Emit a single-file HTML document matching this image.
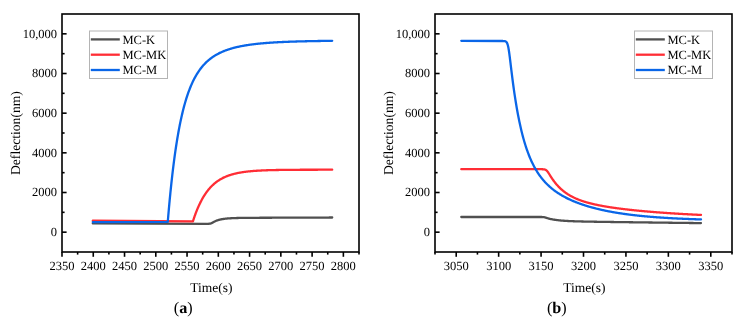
<!DOCTYPE html>
<html><head><meta charset="utf-8"><style>
html,body{margin:0;padding:0;background:#fff;}
body{width:742px;height:322px;overflow:hidden;}
svg{display:block;}
text{font-family:"Liberation Serif",serif;fill:#000;text-rendering:geometricPrecision;}
svg{will-change:transform;}
</style></head><body>
<svg width="742" height="322" viewBox="0 0 742 322">

<path d="M92.80,223.40 L206.30,223.80 L206.40,223.80 L206.50,223.80 L206.60,223.80 L206.70,223.80 L206.80,223.80 L206.90,223.80 L207.00,223.80 L207.10,223.80 L207.20,223.80 L207.30,223.79 L207.40,223.79 L207.50,223.79 L207.60,223.79 L207.70,223.79 L207.80,223.79 L207.90,223.79 L208.00,223.79 L208.10,223.78 L208.20,223.78 L208.30,223.78 L208.40,223.78 L208.50,223.78 L208.60,223.77 L208.70,223.77 L208.80,223.76 L208.90,223.76 L209.00,223.75 L209.10,223.75 L209.20,223.74 L209.30,223.73 L209.40,223.73 L209.50,223.72 L209.60,223.71 L209.70,223.70 L209.80,223.68 L209.90,223.67 L210.00,223.65 L210.10,223.64 L210.20,223.62 L210.30,223.60 L210.40,223.58 L210.50,223.55 L210.60,223.53 L210.70,223.50 L210.80,223.47 L210.90,223.44 L211.00,223.40 L211.10,223.36 L211.20,223.32 L211.30,223.28 L211.40,223.24 L211.50,223.20 L211.60,223.15 L211.70,223.10 L211.80,223.05 L211.90,223.00 L212.00,222.95 L212.10,222.90 L212.20,222.84 L212.30,222.79 L212.40,222.73 L212.50,222.67 L212.60,222.62 L212.70,222.56 L212.80,222.50 L212.90,222.45 L213.00,222.39 L213.10,222.33 L213.20,222.28 L213.30,222.22 L213.40,222.16 L213.50,222.11 L213.60,222.05 L213.70,222.00 L213.80,221.94 L213.90,221.89 L214.00,221.84 L214.10,221.78 L214.20,221.73 L214.70,221.48 L215.20,221.24 L215.70,221.02 L216.20,220.81 L216.70,220.61 L217.20,220.43 L217.70,220.26 L218.20,220.10 L218.70,219.95 L219.20,219.81 L219.70,219.69 L220.20,219.56 L220.70,219.45 L221.20,219.35 L221.70,219.25 L222.20,219.16 L222.70,219.07 L223.20,218.99 L223.70,218.91 L224.20,218.84 L224.70,218.78 L225.20,218.72 L225.70,218.66 L226.20,218.61 L226.70,218.56 L227.20,218.51 L227.70,218.47 L228.20,218.42 L228.70,218.39 L229.20,218.35 L229.70,218.32 L230.20,218.28 L230.70,218.26 L231.20,218.23 L231.70,218.20 L232.20,218.18 L232.70,218.15 L233.20,218.13 L233.70,218.11 L234.20,218.09 L234.70,218.08 L235.20,218.06 L235.70,218.04 L236.20,218.03 L236.70,218.02 L237.20,218.00 L237.70,217.99 L238.20,217.98 L238.70,217.97 L239.20,217.96 L239.70,217.95 L240.20,217.94 L240.70,217.93 L241.20,217.92 L241.70,217.91 L242.20,217.91 L242.70,217.90 L243.20,217.89 L243.70,217.89 L244.20,217.88 L244.70,217.88 L245.20,217.87 L245.70,217.86 L246.20,217.86 L246.70,217.85 L247.20,217.85 L247.70,217.85 L248.20,217.84 L248.70,217.84 L249.20,217.83 L249.70,217.83 L250.20,217.83 L250.70,217.82 L251.20,217.82 L251.70,217.82 L252.20,217.81 L252.70,217.81 L253.20,217.81 L253.70,217.80 L254.20,217.80 L254.70,217.80 L255.20,217.80 L255.70,217.79 L256.20,217.79 L256.70,217.79 L257.20,217.79 L257.70,217.78 L258.20,217.78 L258.70,217.78 L259.20,217.78 L259.70,217.77 L260.20,217.77 L260.70,217.77 L261.20,217.77 L261.70,217.76 L262.20,217.76 L262.70,217.76 L263.20,217.76 L263.70,217.76 L264.20,217.75 L264.70,217.75 L265.20,217.75 L265.70,217.75 L266.20,217.75 L266.70,217.74 L267.20,217.74 L267.70,217.74 L268.20,217.74 L268.70,217.74 L269.20,217.74 L269.70,217.73 L270.20,217.73 L270.70,217.73 L271.20,217.73 L271.70,217.73 L272.20,217.72 L272.70,217.72 L273.20,217.72 L273.70,217.72 L274.20,217.72 L274.70,217.71 L275.20,217.71 L275.70,217.71 L276.20,217.71 L276.70,217.71 L277.20,217.71 L277.70,217.70 L278.20,217.70 L278.70,217.70 L279.20,217.70 L279.70,217.70 L280.20,217.69 L280.70,217.69 L281.20,217.69 L281.70,217.69 L282.20,217.69 L282.70,217.69 L283.20,217.68 L283.70,217.68 L284.20,217.68 L284.70,217.68 L285.20,217.68 L285.70,217.68 L286.20,217.67 L286.70,217.67 L287.20,217.67 L287.70,217.67 L288.20,217.67 L288.70,217.66 L289.20,217.66 L289.70,217.66 L290.20,217.66 L290.70,217.66 L291.20,217.66 L291.70,217.65 L292.20,217.65 L292.70,217.65 L293.20,217.65 L293.70,217.65 L294.20,217.65 L294.70,217.64 L295.20,217.64 L295.70,217.64 L296.20,217.64 L296.70,217.64 L297.20,217.64 L297.70,217.63 L298.20,217.63 L298.70,217.63 L299.20,217.63 L299.70,217.63 L300.20,217.62 L300.70,217.62 L301.20,217.62 L301.70,217.62 L302.20,217.62 L302.70,217.62 L303.20,217.61 L303.70,217.61 L304.20,217.61 L304.70,217.61 L305.20,217.61 L305.70,217.61 L306.20,217.60 L306.70,217.60 L307.20,217.60 L307.70,217.60 L308.20,217.60 L308.70,217.60 L309.20,217.59 L309.70,217.59 L310.20,217.59 L310.70,217.59 L311.20,217.59 L311.70,217.58 L312.20,217.58 L312.70,217.58 L313.20,217.58 L313.70,217.58 L314.20,217.58 L314.70,217.57 L315.20,217.57 L315.70,217.57 L316.20,217.57 L316.70,217.57 L317.20,217.57 L317.70,217.56 L318.20,217.56 L318.70,217.56 L319.20,217.56 L319.70,217.56 L320.20,217.56 L320.70,217.55 L321.20,217.55 L321.70,217.55 L322.20,217.55 L322.70,217.55 L323.20,217.55 L323.70,217.54 L324.20,217.54 L324.70,217.54 L325.20,217.54 L325.70,217.54 L326.20,217.53 L326.70,217.53 L327.20,217.53 L327.70,217.53 L328.20,217.53 L328.70,217.53 L329.20,217.52 L329.70,217.52 L330.20,217.52 L330.70,217.52 L331.20,217.52 L331.70,217.52 L332.20,217.51" fill="none" stroke="#505050" stroke-width="2.3" stroke-linejoin="round" stroke-linecap="round"/>
<path d="M92.80,220.70 L192.95,221.30 L193.05,220.99 L193.15,220.67 L193.25,220.36 L193.35,220.05 L193.45,219.75 L193.55,219.44 L193.65,219.14 L193.75,218.84 L193.85,218.54 L193.95,218.24 L194.05,217.95 L194.15,217.65 L194.25,217.36 L194.35,217.07 L194.45,216.78 L194.55,216.49 L194.65,216.21 L194.75,215.93 L194.85,215.64 L194.95,215.36 L195.05,215.09 L195.15,214.81 L195.25,214.53 L195.35,214.26 L195.45,213.99 L195.55,213.72 L195.65,213.45 L195.75,213.18 L195.85,212.92 L195.95,212.66 L196.05,212.39 L196.55,211.11 L197.05,209.86 L197.55,208.66 L198.05,207.48 L198.55,206.35 L199.05,205.24 L199.55,204.17 L200.05,203.14 L200.55,202.13 L201.05,201.15 L201.55,200.21 L202.05,199.29 L202.55,198.40 L203.05,197.54 L203.55,196.70 L204.05,195.88 L204.55,195.10 L205.05,194.33 L205.55,193.59 L206.05,192.87 L206.55,192.18 L207.05,191.50 L207.55,190.84 L208.05,190.21 L208.55,189.59 L209.05,188.99 L209.55,188.41 L210.05,187.85 L210.55,187.30 L211.05,186.77 L211.55,186.26 L212.05,185.76 L212.55,185.28 L213.05,184.81 L213.55,184.35 L214.05,183.91 L214.55,183.48 L215.05,183.07 L215.55,182.67 L216.05,182.28 L216.55,181.90 L217.05,181.53 L217.55,181.18 L218.05,180.83 L218.55,180.49 L219.05,180.17 L219.55,179.85 L220.05,179.55 L220.55,179.25 L221.05,178.97 L221.55,178.69 L222.05,178.42 L222.55,178.15 L223.05,177.90 L223.55,177.65 L224.05,177.41 L224.55,177.18 L225.05,176.96 L225.55,176.74 L226.05,176.53 L226.55,176.32 L227.05,176.12 L227.55,175.93 L228.05,175.74 L228.55,175.56 L229.05,175.38 L229.55,175.21 L230.05,175.05 L230.55,174.88 L231.05,174.73 L231.55,174.58 L232.05,174.43 L232.55,174.29 L233.05,174.15 L233.55,174.02 L234.05,173.89 L234.55,173.76 L235.05,173.64 L235.55,173.52 L236.05,173.40 L236.55,173.29 L237.05,173.19 L237.55,173.08 L238.05,172.98 L238.55,172.88 L239.05,172.78 L239.55,172.69 L240.05,172.60 L240.55,172.51 L241.05,172.43 L241.55,172.35 L242.05,172.27 L242.55,172.19 L243.05,172.12 L243.55,172.04 L244.05,171.97 L244.55,171.90 L245.05,171.84 L245.55,171.77 L246.05,171.71 L246.55,171.65 L247.05,171.59 L247.55,171.53 L248.05,171.48 L248.55,171.43 L249.05,171.37 L249.55,171.32 L250.05,171.27 L250.55,171.23 L251.05,171.18 L251.55,171.14 L252.05,171.09 L252.55,171.05 L253.05,171.01 L253.55,170.97 L254.05,170.93 L254.55,170.90 L255.05,170.86 L255.55,170.83 L256.05,170.79 L256.55,170.76 L257.05,170.73 L257.55,170.70 L258.05,170.67 L258.55,170.64 L259.05,170.61 L259.55,170.58 L260.05,170.55 L260.55,170.53 L261.05,170.50 L261.55,170.48 L262.05,170.46 L262.55,170.43 L263.05,170.41 L263.55,170.39 L264.05,170.37 L264.55,170.35 L265.05,170.33 L265.55,170.31 L266.05,170.29 L266.55,170.27 L267.05,170.26 L267.55,170.24 L268.05,170.22 L268.55,170.21 L269.05,170.19 L269.55,170.18 L270.05,170.16 L270.55,170.15 L271.05,170.14 L271.55,170.12 L272.05,170.11 L272.55,170.10 L273.05,170.09 L273.55,170.07 L274.05,170.06 L274.55,170.05 L275.05,170.04 L275.55,170.03 L276.05,170.02 L276.55,170.01 L277.05,170.00 L277.55,169.99 L278.05,169.98 L278.55,169.98 L279.05,169.97 L279.55,169.96 L280.05,169.95 L280.55,169.94 L281.05,169.94 L281.55,169.93 L282.05,169.92 L282.55,169.92 L283.05,169.91 L283.55,169.90 L284.05,169.90 L284.55,169.89 L285.05,169.89 L285.55,169.88 L286.05,169.87 L286.55,169.87 L287.05,169.86 L287.55,169.86 L288.05,169.85 L288.55,169.85 L289.05,169.85 L289.55,169.84 L290.05,169.84 L290.55,169.83 L291.05,169.83 L291.55,169.82 L292.05,169.82 L292.55,169.82 L293.05,169.81 L293.55,169.81 L294.05,169.81 L294.55,169.80 L295.05,169.80 L295.55,169.80 L296.05,169.79 L296.55,169.79 L297.05,169.79 L297.55,169.79 L298.05,169.78 L298.55,169.78 L299.05,169.78 L299.55,169.78 L300.05,169.77 L300.55,169.77 L301.05,169.77 L301.55,169.77 L302.05,169.77 L302.55,169.76 L303.05,169.76 L303.55,169.76 L304.05,169.76 L304.55,169.76 L305.05,169.75 L305.55,169.75 L306.05,169.75 L306.55,169.75 L307.05,169.75 L307.55,169.75 L308.05,169.75 L308.55,169.74 L309.05,169.74 L309.55,169.74 L310.05,169.74 L310.55,169.74 L311.05,169.74 L311.55,169.74 L312.05,169.74 L312.55,169.73 L313.05,169.73 L313.55,169.73 L314.05,169.73 L314.55,169.73 L315.05,169.73 L315.55,169.73 L316.05,169.73 L316.55,169.73 L317.05,169.73 L317.55,169.73 L318.05,169.72 L318.55,169.72 L319.05,169.72 L319.55,169.72 L320.05,169.72 L320.55,169.72 L321.05,169.72 L321.55,169.72 L322.05,169.72 L322.55,169.72 L323.05,169.72 L323.55,169.72 L324.05,169.72 L324.55,169.72 L325.05,169.72 L325.55,169.72 L326.05,169.72 L326.55,169.71 L327.05,169.71 L327.55,169.71 L328.05,169.71 L328.55,169.71 L329.05,169.71 L329.55,169.71 L330.05,169.71 L330.55,169.71 L331.05,169.71 L331.55,169.71 L332.05,169.71 L332.20,169.71" fill="none" stroke="#ff2d35" stroke-width="2.3" stroke-linejoin="round" stroke-linecap="round"/>
<path d="M92.80,222.10 L167.77,221.90 L167.87,220.68 L167.97,219.47 L168.07,218.27 L168.17,217.07 L168.27,215.89 L168.37,214.71 L168.47,213.55 L168.57,212.39 L168.67,211.24 L168.77,210.10 L168.87,208.97 L168.97,207.85 L169.07,206.74 L169.17,205.63 L169.27,204.54 L169.37,203.45 L169.47,202.37 L169.57,201.30 L169.67,200.23 L169.77,199.18 L169.87,198.13 L169.97,197.09 L170.07,196.06 L170.17,195.04 L170.27,194.02 L170.37,193.01 L170.47,192.01 L170.57,191.02 L170.67,190.03 L170.77,189.05 L170.87,188.08 L171.37,183.34 L171.87,178.77 L172.37,174.36 L172.87,170.12 L173.37,166.04 L173.87,162.10 L174.37,158.31 L174.87,154.66 L175.37,151.14 L175.87,147.74 L176.37,144.47 L176.87,141.31 L177.37,138.27 L177.87,135.33 L178.37,132.50 L178.87,129.77 L179.37,127.13 L179.87,124.59 L180.37,122.13 L180.87,119.76 L181.37,117.47 L181.87,115.26 L182.37,113.13 L182.87,111.07 L183.37,109.08 L183.87,107.16 L184.37,105.30 L184.87,103.50 L185.37,101.76 L185.87,100.08 L186.37,98.46 L186.87,96.89 L187.37,95.37 L187.87,93.90 L188.37,92.48 L188.87,91.11 L189.37,89.78 L189.87,88.49 L190.37,87.24 L190.87,86.03 L191.37,84.86 L191.87,83.73 L192.37,82.63 L192.87,81.57 L193.37,80.54 L193.87,79.54 L194.37,78.57 L194.87,77.63 L195.37,76.72 L195.87,75.84 L196.37,74.98 L196.87,74.15 L197.37,73.34 L197.87,72.56 L198.37,71.80 L198.87,71.06 L199.37,70.34 L199.87,69.64 L200.37,68.97 L200.87,68.31 L201.37,67.67 L201.87,67.05 L202.37,66.45 L202.87,65.86 L203.37,65.29 L203.87,64.74 L204.37,64.20 L204.87,63.67 L205.37,63.16 L205.87,62.67 L206.37,62.18 L206.87,61.71 L207.37,61.25 L207.87,60.81 L208.37,60.37 L208.87,59.95 L209.37,59.54 L209.87,59.14 L210.37,58.74 L210.87,58.36 L211.37,57.99 L211.87,57.63 L212.37,57.28 L212.87,56.93 L213.37,56.59 L213.87,56.27 L214.37,55.95 L214.87,55.64 L215.37,55.33 L215.87,55.03 L216.37,54.74 L216.87,54.46 L217.37,54.18 L217.87,53.91 L218.37,53.65 L218.87,53.39 L219.37,53.14 L219.87,52.90 L220.37,52.66 L220.87,52.42 L221.37,52.19 L221.87,51.97 L222.37,51.75 L222.87,51.54 L223.37,51.33 L223.87,51.12 L224.37,50.92 L224.87,50.73 L225.37,50.54 L225.87,50.35 L226.37,50.17 L226.87,49.99 L227.37,49.81 L227.87,49.64 L228.37,49.47 L228.87,49.31 L229.37,49.15 L229.87,48.99 L230.37,48.84 L230.87,48.69 L231.37,48.54 L231.87,48.39 L232.37,48.25 L232.87,48.11 L233.37,47.98 L233.87,47.84 L234.37,47.71 L234.87,47.59 L235.37,47.46 L235.87,47.34 L236.37,47.22 L236.87,47.10 L237.37,46.99 L237.87,46.87 L238.37,46.76 L238.87,46.65 L239.37,46.55 L239.87,46.44 L240.37,46.34 L240.87,46.24 L241.37,46.14 L241.87,46.05 L242.37,45.95 L242.87,45.86 L243.37,45.77 L243.87,45.68 L244.37,45.59 L244.87,45.50 L245.37,45.42 L245.87,45.34 L246.37,45.26 L246.87,45.18 L247.37,45.10 L247.87,45.02 L248.37,44.95 L248.87,44.87 L249.37,44.80 L249.87,44.73 L250.37,44.66 L250.87,44.59 L251.37,44.52 L251.87,44.46 L252.37,44.39 L252.87,44.33 L253.37,44.27 L253.87,44.21 L254.37,44.15 L254.87,44.09 L255.37,44.03 L255.87,43.97 L256.37,43.92 L256.87,43.86 L257.37,43.81 L257.87,43.75 L258.37,43.70 L258.87,43.65 L259.37,43.60 L259.87,43.55 L260.37,43.50 L260.87,43.46 L261.37,43.41 L261.87,43.36 L262.37,43.32 L262.87,43.27 L263.37,43.23 L263.87,43.19 L264.37,43.15 L264.87,43.10 L265.37,43.06 L265.87,43.02 L266.37,42.98 L266.87,42.95 L267.37,42.91 L267.87,42.87 L268.37,42.83 L268.87,42.80 L269.37,42.76 L269.87,42.73 L270.37,42.69 L270.87,42.66 L271.37,42.63 L271.87,42.59 L272.37,42.56 L272.87,42.53 L273.37,42.50 L273.87,42.47 L274.37,42.44 L274.87,42.41 L275.37,42.38 L275.87,42.35 L276.37,42.32 L276.87,42.30 L277.37,42.27 L277.87,42.24 L278.37,42.22 L278.87,42.19 L279.37,42.17 L279.87,42.14 L280.37,42.12 L280.87,42.09 L281.37,42.07 L281.87,42.04 L282.37,42.02 L282.87,42.00 L283.37,41.98 L283.87,41.95 L284.37,41.93 L284.87,41.91 L285.37,41.89 L285.87,41.87 L286.37,41.85 L286.87,41.83 L287.37,41.81 L287.87,41.79 L288.37,41.77 L288.87,41.75 L289.37,41.73 L289.87,41.72 L290.37,41.70 L290.87,41.68 L291.37,41.66 L291.87,41.65 L292.37,41.63 L292.87,41.61 L293.37,41.60 L293.87,41.58 L294.37,41.56 L294.87,41.55 L295.37,41.53 L295.87,41.52 L296.37,41.50 L296.87,41.49 L297.37,41.47 L297.87,41.46 L298.37,41.45 L298.87,41.43 L299.37,41.42 L299.87,41.40 L300.37,41.39 L300.87,41.38 L301.37,41.37 L301.87,41.35 L302.37,41.34 L302.87,41.33 L303.37,41.32 L303.87,41.30 L304.37,41.29 L304.87,41.28 L305.37,41.27 L305.87,41.26 L306.37,41.24 L306.87,41.23 L307.37,41.22 L307.87,41.21 L308.37,41.20 L308.87,41.19 L309.37,41.18 L309.87,41.17 L310.37,41.16 L310.87,41.15 L311.37,41.14 L311.87,41.13 L312.37,41.12 L312.87,41.11 L313.37,41.10 L313.87,41.09 L314.37,41.08 L314.87,41.07 L315.37,41.06 L315.87,41.06 L316.37,41.05 L316.87,41.04 L317.37,41.03 L317.87,41.02 L318.37,41.01 L318.87,41.01 L319.37,41.00 L319.87,40.99 L320.37,40.98 L320.87,40.97 L321.37,40.97 L321.87,40.96 L322.37,40.95 L322.87,40.94 L323.37,40.94 L323.87,40.93 L324.37,40.92 L324.87,40.91 L325.37,40.91 L325.87,40.90 L326.37,40.89 L326.87,40.89 L327.37,40.88 L327.87,40.87 L328.37,40.86 L328.87,40.86 L329.37,40.85 L329.87,40.85 L330.37,40.84 L330.87,40.83 L331.37,40.83 L331.87,40.82 L332.20,40.82" fill="none" stroke="#0a66e8" stroke-width="2.3" stroke-linejoin="round" stroke-linecap="round"/>
<rect x="62.0" y="14.0" width="297.0" height="238.0" fill="none" stroke="#000" stroke-width="1.6"/>
<line x1="62.0" y1="232.17" x2="66.6" y2="232.17" stroke="#000" stroke-width="1.6"/>
<text x="57.10" y="235.97" font-size="12.5" text-anchor="end">0</text>
<line x1="62.0" y1="212.33" x2="64.6" y2="212.33" stroke="#000" stroke-width="1.6"/>
<line x1="62.0" y1="192.50" x2="66.6" y2="192.50" stroke="#000" stroke-width="1.6"/>
<text x="57.10" y="196.30" font-size="12.5" text-anchor="end">2000</text>
<line x1="62.0" y1="172.67" x2="64.6" y2="172.67" stroke="#000" stroke-width="1.6"/>
<line x1="62.0" y1="152.83" x2="66.6" y2="152.83" stroke="#000" stroke-width="1.6"/>
<text x="57.10" y="156.63" font-size="12.5" text-anchor="end">4000</text>
<line x1="62.0" y1="133.00" x2="64.6" y2="133.00" stroke="#000" stroke-width="1.6"/>
<line x1="62.0" y1="113.17" x2="66.6" y2="113.17" stroke="#000" stroke-width="1.6"/>
<text x="57.10" y="116.97" font-size="12.5" text-anchor="end">6000</text>
<line x1="62.0" y1="93.33" x2="64.6" y2="93.33" stroke="#000" stroke-width="1.6"/>
<line x1="62.0" y1="73.50" x2="66.6" y2="73.50" stroke="#000" stroke-width="1.6"/>
<text x="57.10" y="77.30" font-size="12.5" text-anchor="end">8000</text>
<line x1="62.0" y1="53.67" x2="64.6" y2="53.67" stroke="#000" stroke-width="1.6"/>
<line x1="62.0" y1="33.83" x2="66.6" y2="33.83" stroke="#000" stroke-width="1.6"/>
<text x="57.10" y="37.63" font-size="12.5" text-anchor="end">10,000</text>
<line x1="62.00" y1="252.0" x2="62.00" y2="256.8" stroke="#000" stroke-width="1.6"/>
<text x="62.00" y="269.9" font-size="12.5" text-anchor="middle">2350</text>
<line x1="77.63" y1="252.0" x2="77.63" y2="254.6" stroke="#000" stroke-width="1.6"/>
<line x1="93.26" y1="252.0" x2="93.26" y2="256.8" stroke="#000" stroke-width="1.6"/>
<text x="93.26" y="269.9" font-size="12.5" text-anchor="middle">2400</text>
<line x1="108.89" y1="252.0" x2="108.89" y2="254.6" stroke="#000" stroke-width="1.6"/>
<line x1="124.53" y1="252.0" x2="124.53" y2="256.8" stroke="#000" stroke-width="1.6"/>
<text x="124.53" y="269.9" font-size="12.5" text-anchor="middle">2450</text>
<line x1="140.16" y1="252.0" x2="140.16" y2="254.6" stroke="#000" stroke-width="1.6"/>
<line x1="155.79" y1="252.0" x2="155.79" y2="256.8" stroke="#000" stroke-width="1.6"/>
<text x="155.79" y="269.9" font-size="12.5" text-anchor="middle">2500</text>
<line x1="171.42" y1="252.0" x2="171.42" y2="254.6" stroke="#000" stroke-width="1.6"/>
<line x1="187.05" y1="252.0" x2="187.05" y2="256.8" stroke="#000" stroke-width="1.6"/>
<text x="187.05" y="269.9" font-size="12.5" text-anchor="middle">2550</text>
<line x1="202.68" y1="252.0" x2="202.68" y2="254.6" stroke="#000" stroke-width="1.6"/>
<line x1="218.32" y1="252.0" x2="218.32" y2="256.8" stroke="#000" stroke-width="1.6"/>
<text x="218.32" y="269.9" font-size="12.5" text-anchor="middle">2600</text>
<line x1="233.95" y1="252.0" x2="233.95" y2="254.6" stroke="#000" stroke-width="1.6"/>
<line x1="249.58" y1="252.0" x2="249.58" y2="256.8" stroke="#000" stroke-width="1.6"/>
<text x="249.58" y="269.9" font-size="12.5" text-anchor="middle">2650</text>
<line x1="265.21" y1="252.0" x2="265.21" y2="254.6" stroke="#000" stroke-width="1.6"/>
<line x1="280.84" y1="252.0" x2="280.84" y2="256.8" stroke="#000" stroke-width="1.6"/>
<text x="280.84" y="269.9" font-size="12.5" text-anchor="middle">2700</text>
<line x1="296.47" y1="252.0" x2="296.47" y2="254.6" stroke="#000" stroke-width="1.6"/>
<line x1="312.11" y1="252.0" x2="312.11" y2="256.8" stroke="#000" stroke-width="1.6"/>
<text x="312.11" y="269.9" font-size="12.5" text-anchor="middle">2750</text>
<line x1="327.74" y1="252.0" x2="327.74" y2="254.6" stroke="#000" stroke-width="1.6"/>
<line x1="343.37" y1="252.0" x2="343.37" y2="256.8" stroke="#000" stroke-width="1.6"/>
<text x="343.37" y="269.9" font-size="12.5" text-anchor="middle">2800</text>
<line x1="359.00" y1="252.0" x2="359.00" y2="254.6" stroke="#000" stroke-width="1.6"/>
<text x="211.30" y="291.5" font-size="13.5" text-anchor="middle">Time(s)</text>
<text transform="translate(19.80,133.10) rotate(-90)" x="0" y="0" font-size="13.6" text-anchor="middle">Deflection(nm)</text>
<rect x="89.5" y="31" width="78" height="47.5" fill="#fff" stroke="#b4b4b4" stroke-width="1"/>
<line x1="90.8" y1="39.40" x2="119.8" y2="39.40" stroke="#505050" stroke-width="2.3"/>
<text x="122.5" y="43.70" font-size="12.5">MC-K</text>
<line x1="90.8" y1="54.70" x2="119.8" y2="54.70" stroke="#ff2d35" stroke-width="2.3"/>
<text x="122.5" y="59.00" font-size="12.5">MC-MK</text>
<line x1="90.8" y1="70.00" x2="119.8" y2="70.00" stroke="#0a66e8" stroke-width="2.3"/>
<text x="122.5" y="74.30" font-size="12.5">MC-M</text>
<text x="183.30" y="312.8" font-size="16.2" text-anchor="middle">(<tspan font-weight="bold">a</tspan>)</text>
<path d="M461.30,217.00 L539.40,217.00 L539.50,217.00 L539.60,217.00 L539.70,217.00 L539.80,217.00 L539.90,217.00 L540.00,217.00 L540.10,217.00 L540.20,217.00 L540.30,217.00 L540.40,217.00 L540.50,217.00 L540.60,217.00 L540.70,217.00 L540.80,217.00 L540.90,217.01 L541.00,217.01 L541.10,217.01 L541.20,217.01 L541.30,217.01 L541.40,217.01 L541.50,217.01 L541.60,217.01 L541.70,217.01 L541.80,217.02 L541.90,217.02 L542.00,217.02 L542.10,217.02 L542.20,217.03 L542.30,217.03 L542.40,217.03 L542.50,217.04 L542.60,217.04 L542.70,217.05 L542.80,217.05 L542.90,217.06 L543.00,217.07 L543.10,217.07 L543.20,217.08 L543.30,217.09 L543.40,217.10 L543.50,217.11 L543.60,217.13 L543.70,217.14 L543.80,217.15 L543.90,217.17 L544.00,217.19 L544.10,217.20 L544.20,217.22 L544.30,217.24 L544.40,217.26 L544.50,217.29 L544.60,217.31 L544.70,217.34 L544.80,217.36 L544.90,217.39 L545.00,217.41 L545.10,217.44 L545.20,217.47 L545.30,217.50 L545.40,217.53 L545.50,217.56 L545.60,217.59 L545.70,217.62 L545.80,217.65 L545.90,217.68 L546.00,217.71 L546.10,217.74 L546.20,217.78 L546.30,217.81 L546.40,217.84 L546.50,217.87 L546.60,217.90 L546.70,217.93 L546.80,217.96 L546.90,217.99 L547.00,218.02 L547.10,218.06 L547.20,218.09 L547.70,218.24 L548.20,218.38 L548.70,218.52 L549.20,218.65 L549.70,218.77 L550.20,218.90 L550.70,219.01 L551.20,219.12 L551.70,219.22 L552.20,219.33 L552.70,219.42 L553.20,219.51 L553.70,219.60 L554.20,219.68 L554.70,219.76 L555.20,219.84 L555.70,219.91 L556.20,219.98 L556.70,220.05 L557.20,220.11 L557.70,220.17 L558.20,220.23 L558.70,220.29 L559.20,220.34 L559.70,220.39 L560.20,220.44 L560.70,220.49 L561.20,220.54 L561.70,220.58 L562.20,220.62 L562.70,220.66 L563.20,220.70 L563.70,220.74 L564.20,220.77 L564.70,220.81 L565.20,220.84 L565.70,220.87 L566.20,220.90 L566.70,220.93 L567.20,220.96 L567.70,220.99 L568.20,221.01 L568.70,221.04 L569.20,221.06 L569.70,221.09 L570.20,221.11 L570.70,221.13 L571.20,221.16 L571.70,221.18 L572.20,221.20 L572.70,221.22 L573.20,221.23 L573.70,221.25 L574.20,221.27 L574.70,221.29 L575.20,221.30 L575.70,221.32 L576.20,221.34 L576.70,221.35 L577.20,221.37 L577.70,221.38 L578.20,221.40 L578.70,221.41 L579.20,221.42 L579.70,221.44 L580.20,221.45 L580.70,221.46 L581.20,221.47 L581.70,221.49 L582.20,221.50 L582.70,221.51 L583.20,221.52 L583.70,221.53 L584.20,221.54 L584.70,221.55 L585.20,221.56 L585.70,221.57 L586.20,221.58 L586.70,221.59 L587.20,221.60 L587.70,221.61 L588.20,221.62 L588.70,221.63 L589.20,221.64 L589.70,221.65 L590.20,221.66 L590.70,221.67 L591.20,221.68 L591.70,221.69 L592.20,221.70 L592.70,221.71 L593.20,221.71 L593.70,221.72 L594.20,221.73 L594.70,221.74 L595.20,221.75 L595.70,221.76 L596.20,221.76 L596.70,221.77 L597.20,221.78 L597.70,221.79 L598.20,221.80 L598.70,221.80 L599.20,221.81 L599.70,221.82 L600.20,221.83 L600.70,221.83 L601.20,221.84 L601.70,221.85 L602.20,221.86 L602.70,221.86 L603.20,221.87 L603.70,221.88 L604.20,221.89 L604.70,221.89 L605.20,221.90 L605.70,221.91 L606.20,221.91 L606.70,221.92 L607.20,221.93 L607.70,221.94 L608.20,221.94 L608.70,221.95 L609.20,221.96 L609.70,221.96 L610.20,221.97 L610.70,221.98 L611.20,221.99 L611.70,221.99 L612.20,222.00 L612.70,222.01 L613.20,222.01 L613.70,222.02 L614.20,222.03 L614.70,222.03 L615.20,222.04 L615.70,222.05 L616.20,222.05 L616.70,222.06 L617.20,222.07 L617.70,222.08 L618.20,222.08 L618.70,222.09 L619.20,222.10 L619.70,222.10 L620.20,222.11 L620.70,222.12 L621.20,222.12 L621.70,222.13 L622.20,222.14 L622.70,222.14 L623.20,222.15 L623.70,222.16 L624.20,222.16 L624.70,222.17 L625.20,222.18 L625.70,222.18 L626.20,222.19 L626.70,222.20 L627.20,222.20 L627.70,222.21 L628.20,222.22 L628.70,222.22 L629.20,222.23 L629.70,222.23 L630.20,222.24 L630.70,222.25 L631.20,222.25 L631.70,222.26 L632.20,222.27 L632.70,222.27 L633.20,222.28 L633.70,222.29 L634.20,222.29 L634.70,222.30 L635.20,222.31 L635.70,222.31 L636.20,222.32 L636.70,222.33 L637.20,222.33 L637.70,222.34 L638.20,222.35 L638.70,222.35 L639.20,222.36 L639.70,222.36 L640.20,222.37 L640.70,222.38 L641.20,222.38 L641.70,222.39 L642.20,222.40 L642.70,222.40 L643.20,222.41 L643.70,222.42 L644.20,222.42 L644.70,222.43 L645.20,222.44 L645.70,222.44 L646.20,222.45 L646.70,222.45 L647.20,222.46 L647.70,222.47 L648.20,222.47 L648.70,222.48 L649.20,222.49 L649.70,222.49 L650.20,222.50 L650.70,222.50 L651.20,222.51 L651.70,222.52 L652.20,222.52 L652.70,222.53 L653.20,222.54 L653.70,222.54 L654.20,222.55 L654.70,222.56 L655.20,222.56 L655.70,222.57 L656.20,222.57 L656.70,222.58 L657.20,222.59 L657.70,222.59 L658.20,222.60 L658.70,222.61 L659.20,222.61 L659.70,222.62 L660.20,222.62 L660.70,222.63 L661.20,222.64 L661.70,222.64 L662.20,222.65 L662.70,222.65 L663.20,222.66 L663.70,222.67 L664.20,222.67 L664.70,222.68 L665.20,222.69 L665.70,222.69 L666.20,222.70 L666.70,222.70 L667.20,222.71 L667.70,222.72 L668.20,222.72 L668.70,222.73 L669.20,222.73 L669.70,222.74 L670.20,222.75 L670.70,222.75 L671.20,222.76 L671.70,222.77 L672.20,222.77 L672.70,222.78 L673.20,222.78 L673.70,222.79 L674.20,222.80 L674.70,222.80 L675.20,222.81 L675.70,222.81 L676.20,222.82 L676.70,222.83 L677.20,222.83 L677.70,222.84 L678.20,222.84 L678.70,222.85 L679.20,222.86 L679.70,222.86 L680.20,222.87 L680.70,222.87 L681.20,222.88 L681.70,222.89 L682.20,222.89 L682.70,222.90 L683.20,222.90 L683.70,222.91 L684.20,222.92 L684.70,222.92 L685.20,222.93 L685.70,222.93 L686.20,222.94 L686.70,222.95 L687.20,222.95 L687.70,222.96 L688.20,222.96 L688.70,222.97 L689.20,222.98 L689.70,222.98 L690.20,222.99 L690.70,222.99 L691.20,223.00 L691.70,223.00 L692.20,223.01 L692.70,223.02 L693.20,223.02 L693.70,223.03 L694.20,223.03 L694.70,223.04 L695.20,223.05 L695.70,223.05 L696.20,223.06 L696.70,223.06 L697.20,223.07 L697.70,223.08 L698.20,223.08 L698.70,223.09 L699.20,223.09 L699.70,223.10 L700.20,223.10 L700.70,223.11 L701.00,223.11" fill="none" stroke="#505050" stroke-width="2.3" stroke-linejoin="round" stroke-linecap="round"/>
<path d="M461.30,169.20 L540.20,169.21 L540.30,169.21 L540.40,169.21 L540.50,169.21 L540.60,169.21 L540.70,169.21 L540.80,169.21 L540.90,169.21 L541.00,169.21 L541.10,169.21 L541.20,169.21 L541.30,169.22 L541.40,169.22 L541.50,169.22 L541.60,169.22 L541.70,169.22 L541.80,169.22 L541.90,169.23 L542.00,169.23 L542.10,169.23 L542.20,169.23 L542.30,169.24 L542.40,169.24 L542.50,169.24 L542.60,169.25 L542.70,169.25 L542.80,169.26 L542.90,169.26 L543.00,169.27 L543.10,169.28 L543.20,169.28 L543.30,169.29 L543.40,169.30 L543.50,169.31 L543.60,169.32 L543.70,169.33 L543.80,169.34 L543.90,169.36 L544.00,169.37 L544.10,169.39 L544.20,169.40 L544.30,169.42 L544.40,169.44 L544.50,169.46 L544.60,169.49 L544.70,169.51 L544.80,169.54 L544.90,169.57 L545.00,169.60 L545.10,169.63 L545.20,169.67 L545.30,169.71 L545.40,169.75 L545.50,169.80 L545.60,169.85 L545.70,169.90 L545.80,169.96 L545.90,170.02 L546.00,170.08 L546.10,170.15 L546.20,170.22 L546.30,170.29 L546.40,170.37 L546.50,170.46 L546.60,170.55 L546.70,170.64 L546.80,170.73 L546.90,170.83 L547.00,170.94 L547.10,171.05 L547.20,171.16 L547.30,171.28 L547.40,171.40 L547.50,171.52 L547.60,171.65 L547.70,171.78 L547.80,171.91 L547.90,172.05 L548.00,172.19 L548.10,172.33 L548.20,172.47 L548.30,172.62 L548.40,172.77 L548.50,172.92 L548.60,173.07 L548.70,173.22 L548.80,173.38 L548.90,173.53 L549.00,173.69 L549.10,173.85 L549.20,174.01 L549.30,174.17 L549.40,174.32 L549.50,174.48 L549.60,174.65 L549.70,174.81 L549.80,174.97 L550.30,175.77 L550.80,176.56 L551.30,177.34 L551.80,178.11 L552.30,178.85 L552.80,179.58 L553.30,180.28 L553.80,180.97 L554.30,181.64 L554.80,182.29 L555.30,182.92 L555.80,183.54 L556.30,184.14 L556.80,184.72 L557.30,185.28 L557.80,185.83 L558.30,186.37 L558.80,186.88 L559.30,187.39 L559.80,187.88 L560.30,188.36 L560.80,188.83 L561.30,189.28 L561.80,189.72 L562.30,190.15 L562.80,190.57 L563.30,190.98 L563.80,191.37 L564.30,191.76 L564.80,192.14 L565.30,192.51 L565.80,192.86 L566.30,193.21 L566.80,193.55 L567.30,193.89 L567.80,194.21 L568.30,194.53 L568.80,194.83 L569.30,195.13 L569.80,195.43 L570.30,195.72 L570.80,196.00 L571.30,196.27 L571.80,196.54 L572.30,196.80 L572.80,197.05 L573.30,197.30 L573.80,197.55 L574.30,197.78 L574.80,198.02 L575.30,198.25 L575.80,198.47 L576.30,198.69 L576.80,198.90 L577.30,199.11 L577.80,199.32 L578.30,199.52 L578.80,199.71 L579.30,199.91 L579.80,200.09 L580.30,200.28 L580.80,200.46 L581.30,200.64 L581.80,200.81 L582.30,200.98 L582.80,201.15 L583.30,201.32 L583.80,201.48 L584.30,201.64 L584.80,201.79 L585.30,201.94 L585.80,202.09 L586.30,202.24 L586.80,202.39 L587.30,202.53 L587.80,202.67 L588.30,202.81 L588.80,202.94 L589.30,203.08 L589.80,203.21 L590.30,203.34 L590.80,203.46 L591.30,203.59 L591.80,203.71 L592.30,203.83 L592.80,203.95 L593.30,204.07 L593.80,204.19 L594.30,204.30 L594.80,204.41 L595.30,204.52 L595.80,204.63 L596.30,204.74 L596.80,204.85 L597.30,204.95 L597.80,205.05 L598.30,205.16 L598.80,205.26 L599.30,205.36 L599.80,205.45 L600.30,205.55 L600.80,205.65 L601.30,205.74 L601.80,205.84 L602.30,205.93 L602.80,206.02 L603.30,206.11 L603.80,206.20 L604.30,206.29 L604.80,206.37 L605.30,206.46 L605.80,206.54 L606.30,206.63 L606.80,206.71 L607.30,206.79 L607.80,206.87 L608.30,206.95 L608.80,207.03 L609.30,207.11 L609.80,207.19 L610.30,207.27 L610.80,207.34 L611.30,207.42 L611.80,207.49 L612.30,207.57 L612.80,207.64 L613.30,207.71 L613.80,207.79 L614.30,207.86 L614.80,207.93 L615.30,208.00 L615.80,208.07 L616.30,208.14 L616.80,208.20 L617.30,208.27 L617.80,208.34 L618.30,208.41 L618.80,208.47 L619.30,208.54 L619.80,208.60 L620.30,208.67 L620.80,208.73 L621.30,208.79 L621.80,208.85 L622.30,208.92 L622.80,208.98 L623.30,209.04 L623.80,209.10 L624.30,209.16 L624.80,209.22 L625.30,209.28 L625.80,209.34 L626.30,209.40 L626.80,209.45 L627.30,209.51 L627.80,209.57 L628.30,209.62 L628.80,209.68 L629.30,209.74 L629.80,209.79 L630.30,209.85 L630.80,209.90 L631.30,209.95 L631.80,210.01 L632.30,210.06 L632.80,210.11 L633.30,210.17 L633.80,210.22 L634.30,210.27 L634.80,210.32 L635.30,210.37 L635.80,210.42 L636.30,210.47 L636.80,210.52 L637.30,210.57 L637.80,210.62 L638.30,210.67 L638.80,210.72 L639.30,210.77 L639.80,210.82 L640.30,210.86 L640.80,210.91 L641.30,210.96 L641.80,211.01 L642.30,211.05 L642.80,211.10 L643.30,211.14 L643.80,211.19 L644.30,211.23 L644.80,211.28 L645.30,211.32 L645.80,211.37 L646.30,211.41 L646.80,211.46 L647.30,211.50 L647.80,211.54 L648.30,211.59 L648.80,211.63 L649.30,211.67 L649.80,211.71 L650.30,211.75 L650.80,211.80 L651.30,211.84 L651.80,211.88 L652.30,211.92 L652.80,211.96 L653.30,212.00 L653.80,212.04 L654.30,212.08 L654.80,212.12 L655.30,212.16 L655.80,212.20 L656.30,212.24 L656.80,212.28 L657.30,212.31 L657.80,212.35 L658.30,212.39 L658.80,212.43 L659.30,212.47 L659.80,212.50 L660.30,212.54 L660.80,212.58 L661.30,212.61 L661.80,212.65 L662.30,212.69 L662.80,212.72 L663.30,212.76 L663.80,212.79 L664.30,212.83 L664.80,212.86 L665.30,212.90 L665.80,212.93 L666.30,212.97 L666.80,213.00 L667.30,213.04 L667.80,213.07 L668.30,213.10 L668.80,213.14 L669.30,213.17 L669.80,213.20 L670.30,213.24 L670.80,213.27 L671.30,213.30 L671.80,213.33 L672.30,213.37 L672.80,213.40 L673.30,213.43 L673.80,213.46 L674.30,213.49 L674.80,213.52 L675.30,213.55 L675.80,213.59 L676.30,213.62 L676.80,213.65 L677.30,213.68 L677.80,213.71 L678.30,213.74 L678.80,213.77 L679.30,213.80 L679.80,213.83 L680.30,213.85 L680.80,213.88 L681.30,213.91 L681.80,213.94 L682.30,213.97 L682.80,214.00 L683.30,214.03 L683.80,214.05 L684.30,214.08 L684.80,214.11 L685.30,214.14 L685.80,214.17 L686.30,214.19 L686.80,214.22 L687.30,214.25 L687.80,214.27 L688.30,214.30 L688.80,214.33 L689.30,214.35 L689.80,214.38 L690.30,214.40 L690.80,214.43 L691.30,214.46 L691.80,214.48 L692.30,214.51 L692.80,214.53 L693.30,214.56 L693.80,214.58 L694.30,214.61 L694.80,214.63 L695.30,214.66 L695.80,214.68 L696.30,214.71 L696.80,214.73 L697.30,214.75 L697.80,214.78 L698.30,214.80 L698.80,214.82 L699.30,214.85 L699.80,214.87 L700.30,214.89 L700.80,214.92 L701.00,214.93" fill="none" stroke="#ff2d35" stroke-width="2.3" stroke-linejoin="round" stroke-linecap="round"/>
<path d="M461.30,40.80 L502.95,41.02 L503.05,41.03 L503.15,41.03 L503.25,41.03 L503.35,41.04 L503.45,41.04 L503.55,41.05 L503.65,41.05 L503.75,41.06 L503.85,41.06 L503.95,41.07 L504.05,41.08 L504.15,41.09 L504.25,41.10 L504.35,41.11 L504.45,41.13 L504.55,41.14 L504.65,41.16 L504.75,41.18 L504.85,41.20 L504.95,41.22 L505.05,41.24 L505.15,41.27 L505.25,41.30 L505.35,41.34 L505.45,41.38 L505.55,41.42 L505.65,41.47 L505.75,41.52 L505.85,41.58 L505.95,41.65 L506.05,41.72 L506.15,41.80 L506.25,41.89 L506.35,41.99 L506.45,42.10 L506.55,42.22 L506.65,42.36 L506.75,42.50 L506.85,42.66 L506.95,42.84 L507.05,43.03 L507.15,43.25 L507.25,43.48 L507.35,43.73 L507.45,44.00 L507.55,44.29 L507.65,44.61 L507.75,44.95 L507.85,45.32 L507.95,45.71 L508.05,46.13 L508.15,46.58 L508.25,47.05 L508.35,47.55 L508.45,48.08 L508.55,48.63 L508.65,49.20 L508.75,49.81 L508.85,50.43 L508.95,51.08 L509.05,51.75 L509.15,52.44 L509.25,53.15 L509.35,53.88 L509.45,54.62 L509.55,55.38 L509.65,56.15 L509.75,56.93 L509.85,57.72 L509.95,58.52 L510.05,59.33 L510.15,60.14 L510.25,60.97 L510.35,61.79 L510.45,62.62 L510.55,63.45 L510.65,64.28 L510.75,65.11 L510.85,65.95 L510.95,66.78 L511.05,67.61 L511.15,68.44 L511.25,69.27 L511.35,70.09 L511.85,74.17 L512.35,78.15 L512.85,82.01 L513.35,85.74 L513.85,89.34 L514.35,92.82 L514.85,96.17 L515.35,99.41 L515.85,102.53 L516.35,105.54 L516.85,108.44 L517.35,111.24 L517.85,113.95 L518.35,116.55 L518.85,119.07 L519.35,121.50 L519.85,123.85 L520.35,126.11 L520.85,128.30 L521.35,130.42 L521.85,132.46 L522.35,134.44 L522.85,136.35 L523.35,138.19 L523.85,139.98 L524.35,141.71 L524.85,143.38 L525.35,145.00 L525.85,146.56 L526.35,148.08 L526.85,149.55 L527.35,150.97 L527.85,152.35 L528.35,153.69 L528.85,154.99 L529.35,156.24 L529.85,157.46 L530.35,158.65 L530.85,159.79 L531.35,160.91 L531.85,161.99 L532.35,163.04 L532.85,164.06 L533.35,165.05 L533.85,166.02 L534.35,166.96 L534.85,167.87 L535.35,168.75 L535.85,169.62 L536.35,170.46 L536.85,171.27 L537.35,172.07 L537.85,172.85 L538.35,173.60 L538.85,174.34 L539.35,175.06 L539.85,175.76 L540.35,176.44 L540.85,177.11 L541.35,177.76 L541.85,178.39 L542.35,179.01 L542.85,179.62 L543.35,180.21 L543.85,180.79 L544.35,181.35 L544.85,181.90 L545.35,182.44 L545.85,182.97 L546.35,183.49 L546.85,183.99 L547.35,184.49 L547.85,184.98 L548.35,185.45 L548.85,185.92 L549.35,186.37 L549.85,186.82 L550.35,187.26 L550.85,187.69 L551.35,188.11 L551.85,188.52 L552.35,188.93 L552.85,189.32 L553.35,189.71 L553.85,190.10 L554.35,190.47 L554.85,190.84 L555.35,191.21 L555.85,191.57 L556.35,191.92 L556.85,192.26 L557.35,192.60 L557.85,192.93 L558.35,193.26 L558.85,193.58 L559.35,193.90 L559.85,194.21 L560.35,194.52 L560.85,194.82 L561.35,195.12 L561.85,195.41 L562.35,195.70 L562.85,195.99 L563.35,196.27 L563.85,196.54 L564.35,196.82 L564.85,197.08 L565.35,197.35 L565.85,197.61 L566.35,197.87 L566.85,198.12 L567.35,198.37 L567.85,198.61 L568.35,198.86 L568.85,199.10 L569.35,199.33 L569.85,199.57 L570.35,199.80 L570.85,200.02 L571.35,200.25 L571.85,200.47 L572.35,200.69 L572.85,200.90 L573.35,201.11 L573.85,201.32 L574.35,201.53 L574.85,201.74 L575.35,201.94 L575.85,202.14 L576.35,202.33 L576.85,202.53 L577.35,202.72 L577.85,202.91 L578.35,203.10 L578.85,203.29 L579.35,203.47 L579.85,203.65 L580.35,203.83 L580.85,204.01 L581.35,204.18 L581.85,204.35 L582.35,204.53 L582.85,204.69 L583.35,204.86 L583.85,205.03 L584.35,205.19 L584.85,205.35 L585.35,205.51 L585.85,205.67 L586.35,205.82 L586.85,205.98 L587.35,206.13 L587.85,206.28 L588.35,206.43 L588.85,206.58 L589.35,206.73 L589.85,206.87 L590.35,207.01 L590.85,207.15 L591.35,207.29 L591.85,207.43 L592.35,207.57 L592.85,207.70 L593.35,207.84 L593.85,207.97 L594.35,208.10 L594.85,208.23 L595.35,208.36 L595.85,208.49 L596.35,208.61 L596.85,208.74 L597.35,208.86 L597.85,208.98 L598.35,209.10 L598.85,209.22 L599.35,209.34 L599.85,209.45 L600.35,209.57 L600.85,209.68 L601.35,209.80 L601.85,209.91 L602.35,210.02 L602.85,210.13 L603.35,210.24 L603.85,210.34 L604.35,210.45 L604.85,210.56 L605.35,210.66 L605.85,210.76 L606.35,210.86 L606.85,210.96 L607.35,211.06 L607.85,211.16 L608.35,211.26 L608.85,211.36 L609.35,211.45 L609.85,211.55 L610.35,211.64 L610.85,211.73 L611.35,211.83 L611.85,211.92 L612.35,212.01 L612.85,212.10 L613.35,212.19 L613.85,212.27 L614.35,212.36 L614.85,212.44 L615.35,212.53 L615.85,212.61 L616.35,212.70 L616.85,212.78 L617.35,212.86 L617.85,212.94 L618.35,213.02 L618.85,213.10 L619.35,213.18 L619.85,213.25 L620.35,213.33 L620.85,213.41 L621.35,213.48 L621.85,213.56 L622.35,213.63 L622.85,213.70 L623.35,213.77 L623.85,213.85 L624.35,213.92 L624.85,213.99 L625.35,214.06 L625.85,214.12 L626.35,214.19 L626.85,214.26 L627.35,214.33 L627.85,214.39 L628.35,214.46 L628.85,214.52 L629.35,214.59 L629.85,214.65 L630.35,214.71 L630.85,214.77 L631.35,214.84 L631.85,214.90 L632.35,214.96 L632.85,215.02 L633.35,215.07 L633.85,215.13 L634.35,215.19 L634.85,215.25 L635.35,215.30 L635.85,215.36 L636.35,215.42 L636.85,215.47 L637.35,215.53 L637.85,215.58 L638.35,215.63 L638.85,215.69 L639.35,215.74 L639.85,215.79 L640.35,215.84 L640.85,215.89 L641.35,215.94 L641.85,215.99 L642.35,216.04 L642.85,216.09 L643.35,216.14 L643.85,216.19 L644.35,216.23 L644.85,216.28 L645.35,216.33 L645.85,216.37 L646.35,216.42 L646.85,216.46 L647.35,216.51 L647.85,216.55 L648.35,216.60 L648.85,216.64 L649.35,216.68 L649.85,216.72 L650.35,216.77 L650.85,216.81 L651.35,216.85 L651.85,216.89 L652.35,216.93 L652.85,216.97 L653.35,217.01 L653.85,217.05 L654.35,217.09 L654.85,217.13 L655.35,217.16 L655.85,217.20 L656.35,217.24 L656.85,217.28 L657.35,217.31 L657.85,217.35 L658.35,217.38 L658.85,217.42 L659.35,217.45 L659.85,217.49 L660.35,217.52 L660.85,217.56 L661.35,217.59 L661.85,217.62 L662.35,217.66 L662.85,217.69 L663.35,217.72 L663.85,217.75 L664.35,217.79 L664.85,217.82 L665.35,217.85 L665.85,217.88 L666.35,217.91 L666.85,217.94 L667.35,217.97 L667.85,218.00 L668.35,218.03 L668.85,218.06 L669.35,218.09 L669.85,218.12 L670.35,218.14 L670.85,218.17 L671.35,218.20 L671.85,218.23 L672.35,218.25 L672.85,218.28 L673.35,218.31 L673.85,218.33 L674.35,218.36 L674.85,218.39 L675.35,218.41 L675.85,218.44 L676.35,218.46 L676.85,218.49 L677.35,218.51 L677.85,218.53 L678.35,218.56 L678.85,218.58 L679.35,218.61 L679.85,218.63 L680.35,218.65 L680.85,218.68 L681.35,218.70 L681.85,218.72 L682.35,218.74 L682.85,218.76 L683.35,218.79 L683.85,218.81 L684.35,218.83 L684.85,218.85 L685.35,218.87 L685.85,218.89 L686.35,218.91 L686.85,218.93 L687.35,218.95 L687.85,218.97 L688.35,218.99 L688.85,219.01 L689.35,219.03 L689.85,219.05 L690.35,219.07 L690.85,219.09 L691.35,219.11 L691.85,219.13 L692.35,219.14 L692.85,219.16 L693.35,219.18 L693.85,219.20 L694.35,219.21 L694.85,219.23 L695.35,219.25 L695.85,219.27 L696.35,219.28 L696.85,219.30 L697.35,219.32 L697.85,219.33 L698.35,219.35 L698.85,219.36 L699.35,219.38 L699.85,219.40 L700.35,219.41 L700.85,219.43 L701.00,219.43" fill="none" stroke="#0a66e8" stroke-width="2.3" stroke-linejoin="round" stroke-linecap="round"/>
<rect x="435.0" y="14.0" width="297.0" height="238.0" fill="none" stroke="#000" stroke-width="1.6"/>
<line x1="435.0" y1="232.17" x2="439.6" y2="232.17" stroke="#000" stroke-width="1.6"/>
<text x="430.10" y="235.97" font-size="12.5" text-anchor="end">0</text>
<line x1="435.0" y1="212.33" x2="437.6" y2="212.33" stroke="#000" stroke-width="1.6"/>
<line x1="435.0" y1="192.50" x2="439.6" y2="192.50" stroke="#000" stroke-width="1.6"/>
<text x="430.10" y="196.30" font-size="12.5" text-anchor="end">2000</text>
<line x1="435.0" y1="172.67" x2="437.6" y2="172.67" stroke="#000" stroke-width="1.6"/>
<line x1="435.0" y1="152.83" x2="439.6" y2="152.83" stroke="#000" stroke-width="1.6"/>
<text x="430.10" y="156.63" font-size="12.5" text-anchor="end">4000</text>
<line x1="435.0" y1="133.00" x2="437.6" y2="133.00" stroke="#000" stroke-width="1.6"/>
<line x1="435.0" y1="113.17" x2="439.6" y2="113.17" stroke="#000" stroke-width="1.6"/>
<text x="430.10" y="116.97" font-size="12.5" text-anchor="end">6000</text>
<line x1="435.0" y1="93.33" x2="437.6" y2="93.33" stroke="#000" stroke-width="1.6"/>
<line x1="435.0" y1="73.50" x2="439.6" y2="73.50" stroke="#000" stroke-width="1.6"/>
<text x="430.10" y="77.30" font-size="12.5" text-anchor="end">8000</text>
<line x1="435.0" y1="53.67" x2="437.6" y2="53.67" stroke="#000" stroke-width="1.6"/>
<line x1="435.0" y1="33.83" x2="439.6" y2="33.83" stroke="#000" stroke-width="1.6"/>
<text x="430.10" y="37.63" font-size="12.5" text-anchor="end">10,000</text>
<line x1="435.00" y1="252.0" x2="435.00" y2="254.6" stroke="#000" stroke-width="1.6"/>
<line x1="456.21" y1="252.0" x2="456.21" y2="256.8" stroke="#000" stroke-width="1.6"/>
<text x="456.21" y="269.9" font-size="12.5" text-anchor="middle">3050</text>
<line x1="477.43" y1="252.0" x2="477.43" y2="254.6" stroke="#000" stroke-width="1.6"/>
<line x1="498.64" y1="252.0" x2="498.64" y2="256.8" stroke="#000" stroke-width="1.6"/>
<text x="498.64" y="269.9" font-size="12.5" text-anchor="middle">3100</text>
<line x1="519.86" y1="252.0" x2="519.86" y2="254.6" stroke="#000" stroke-width="1.6"/>
<line x1="541.07" y1="252.0" x2="541.07" y2="256.8" stroke="#000" stroke-width="1.6"/>
<text x="541.07" y="269.9" font-size="12.5" text-anchor="middle">3150</text>
<line x1="562.29" y1="252.0" x2="562.29" y2="254.6" stroke="#000" stroke-width="1.6"/>
<line x1="583.50" y1="252.0" x2="583.50" y2="256.8" stroke="#000" stroke-width="1.6"/>
<text x="583.50" y="269.9" font-size="12.5" text-anchor="middle">3200</text>
<line x1="604.71" y1="252.0" x2="604.71" y2="254.6" stroke="#000" stroke-width="1.6"/>
<line x1="625.93" y1="252.0" x2="625.93" y2="256.8" stroke="#000" stroke-width="1.6"/>
<text x="625.93" y="269.9" font-size="12.5" text-anchor="middle">3250</text>
<line x1="647.14" y1="252.0" x2="647.14" y2="254.6" stroke="#000" stroke-width="1.6"/>
<line x1="668.36" y1="252.0" x2="668.36" y2="256.8" stroke="#000" stroke-width="1.6"/>
<text x="668.36" y="269.9" font-size="12.5" text-anchor="middle">3300</text>
<line x1="689.57" y1="252.0" x2="689.57" y2="254.6" stroke="#000" stroke-width="1.6"/>
<line x1="710.79" y1="252.0" x2="710.79" y2="256.8" stroke="#000" stroke-width="1.6"/>
<text x="710.79" y="269.9" font-size="12.5" text-anchor="middle">3350</text>
<line x1="732.00" y1="252.0" x2="732.00" y2="254.6" stroke="#000" stroke-width="1.6"/>
<text x="584.30" y="291.5" font-size="13.5" text-anchor="middle">Time(s)</text>
<text transform="translate(392.80,133.10) rotate(-90)" x="0" y="0" font-size="13.6" text-anchor="middle">Deflection(nm)</text>
<rect x="634.5" y="31" width="78" height="47.5" fill="#fff" stroke="#b4b4b4" stroke-width="1"/>
<line x1="635.8" y1="39.40" x2="664.8" y2="39.40" stroke="#505050" stroke-width="2.3"/>
<text x="667.5" y="43.70" font-size="12.5">MC-K</text>
<line x1="635.8" y1="54.70" x2="664.8" y2="54.70" stroke="#ff2d35" stroke-width="2.3"/>
<text x="667.5" y="59.00" font-size="12.5">MC-MK</text>
<line x1="635.8" y1="70.00" x2="664.8" y2="70.00" stroke="#0a66e8" stroke-width="2.3"/>
<text x="667.5" y="74.30" font-size="12.5">MC-M</text>
<text x="556.80" y="312.8" font-size="16.2" text-anchor="middle">(<tspan font-weight="bold">b</tspan>)</text>
</svg>
</body></html>
